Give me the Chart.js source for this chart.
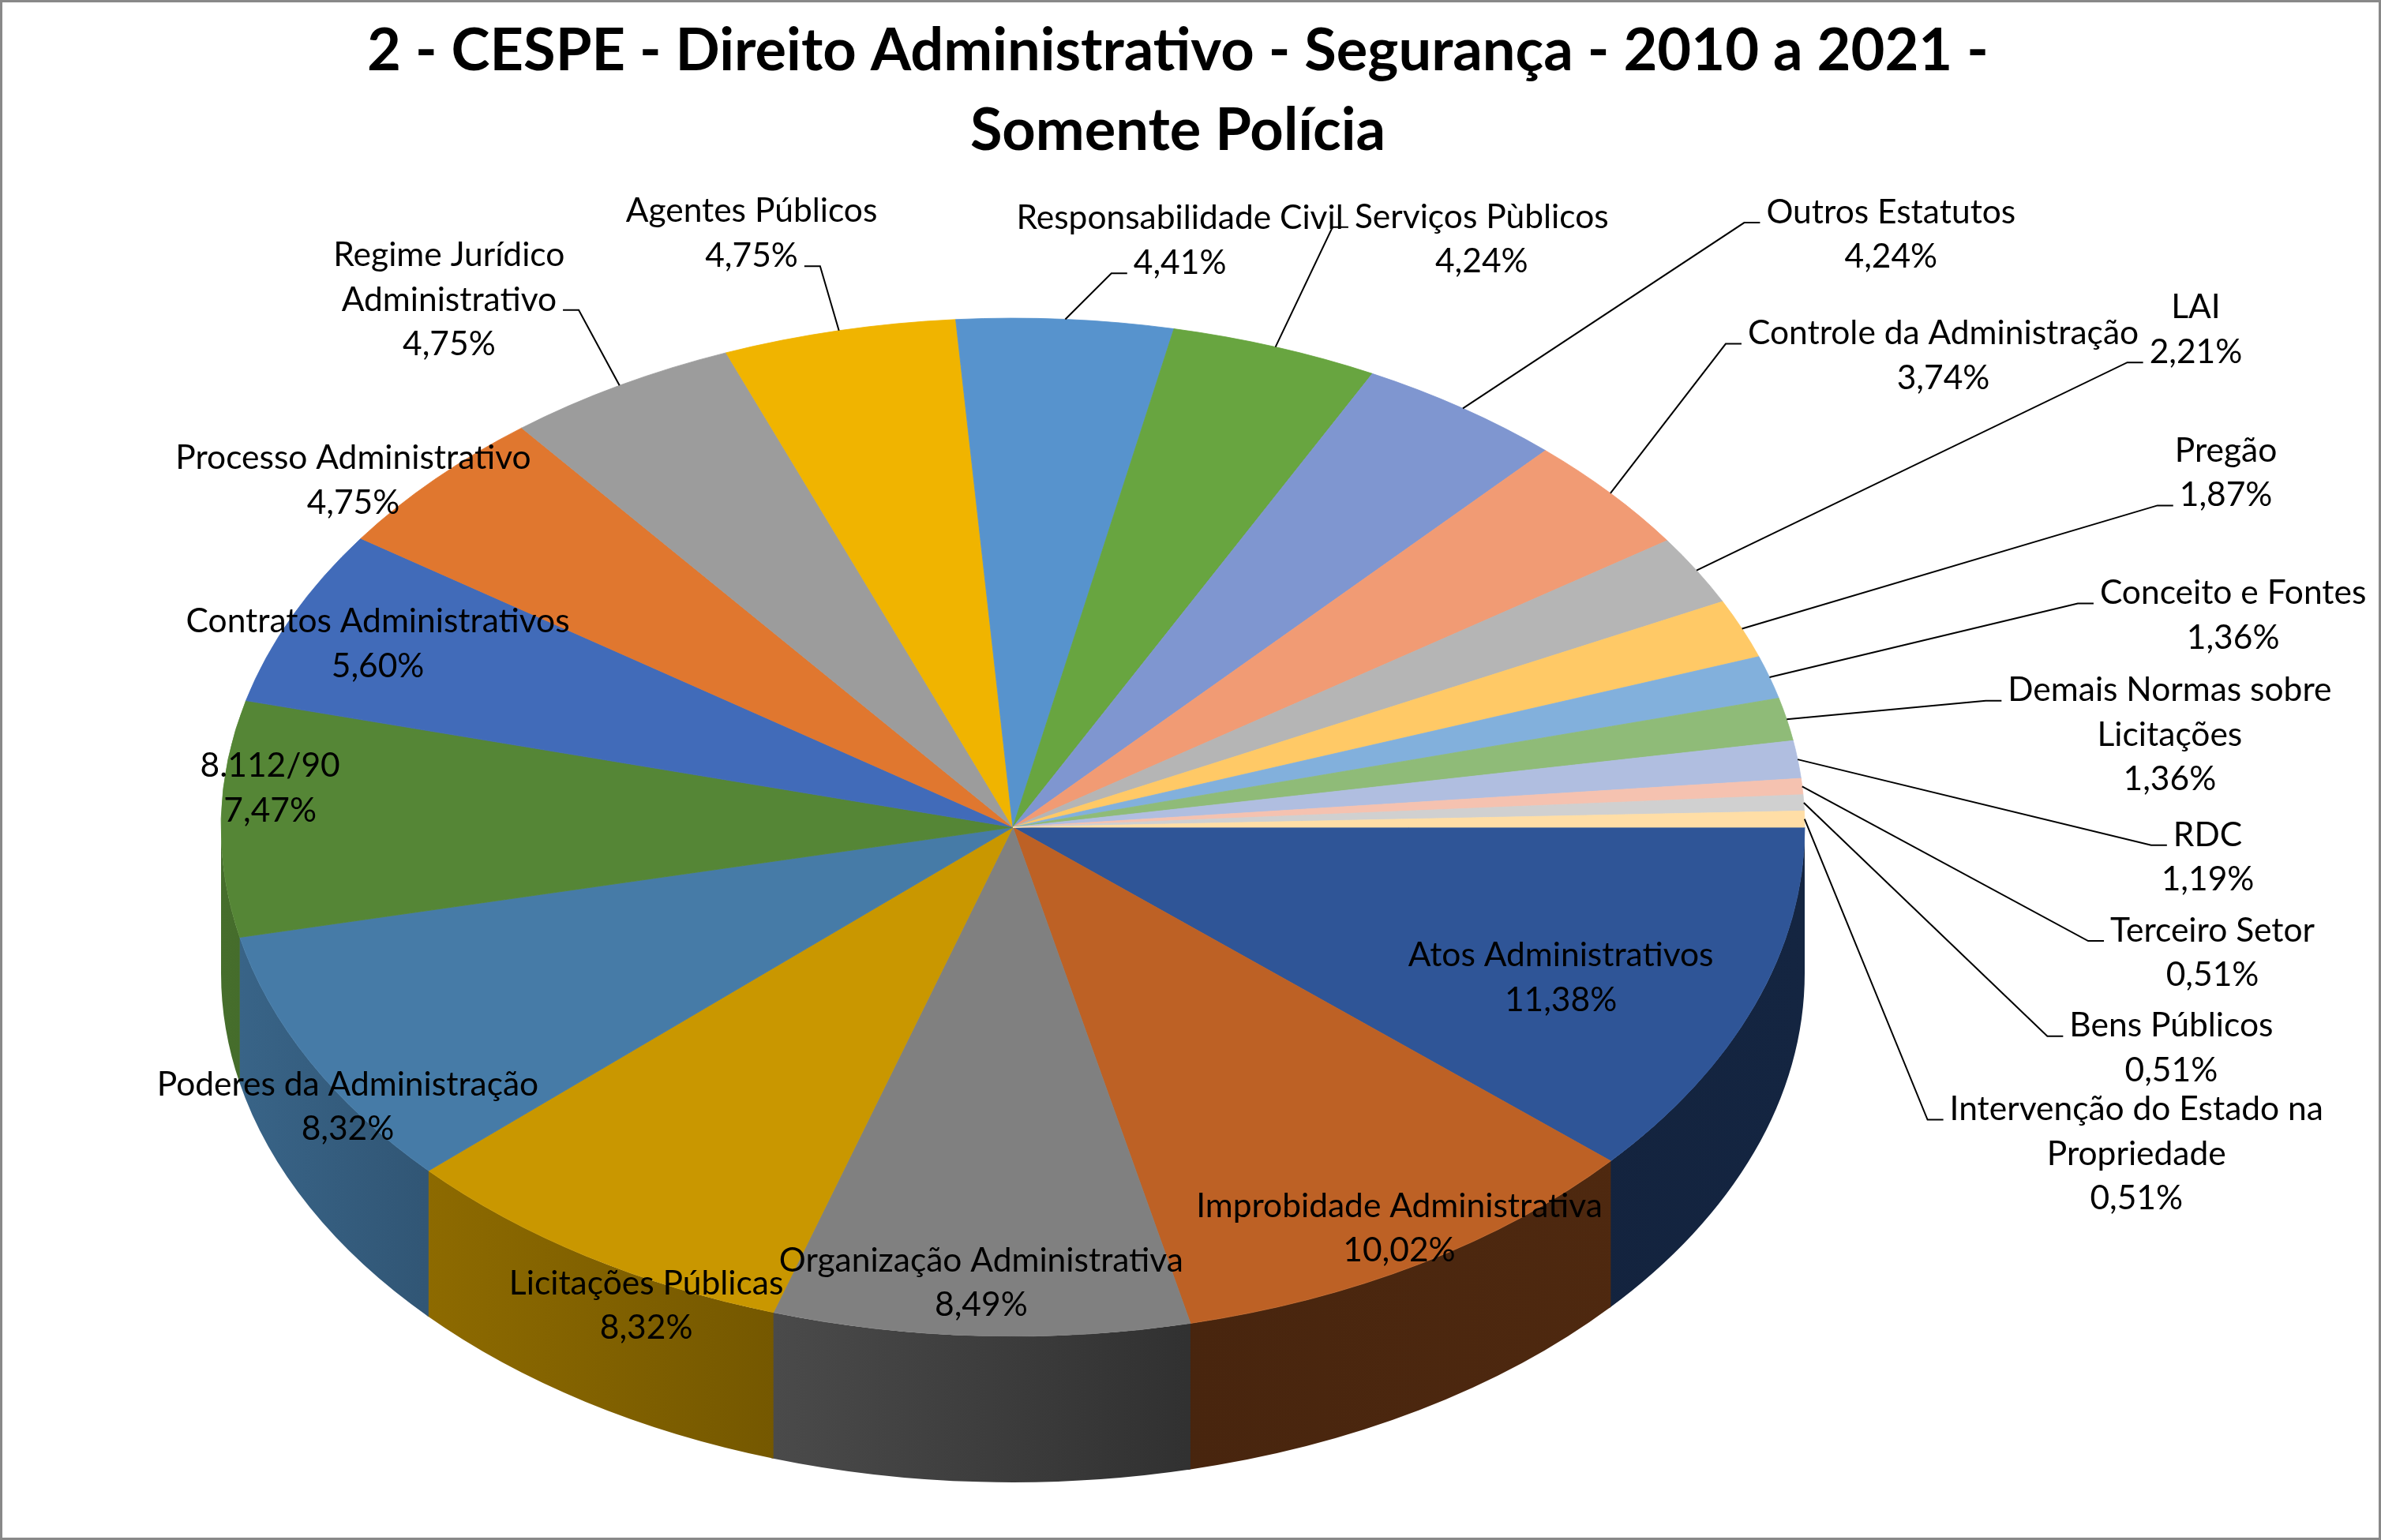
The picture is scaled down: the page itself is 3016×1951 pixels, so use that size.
<!DOCTYPE html>
<html>
<head>
<meta charset="utf-8">
<title>2 - CESPE - Direito Administrativo - Segurança - 2010 a 2021 - Somente Polícia</title>
<script src="https://cdn.jsdelivr.net/npm/chart.js@4.4.1/dist/chart.umd.min.js"></script>
<style>
  html, body { margin: 0; padding: 0; background: #fff; }
  canvas { display: block; }
</style>
</head>
<body>
<canvas id="myChart" width="3016" height="1951"></canvas>
<script>
// values as printed on the chart (% of questions per subject)
const categories = [
  "Atos Administrativos", "Improbidade Administrativa", "Organização Administrativa",
  "Licitações Públicas", "Poderes da Administração", "8.112/90", "Contratos Administrativos",
  "Processo Administrativo", ["Regime Jurídico", "Administrativo"], "Agentes Públicos",
  "Responsabilidade Civil", "Serviços Pùblicos", "Outros Estatutos", "Controle da Administração",
  "LAI", "Pregão", "Conceito e Fontes", ["Demais Normas sobre", "Licitações"], "RDC",
  "Terceiro Setor", "Bens Públicos", ["Intervenção do Estado na", "Propriedade"]
];
const percents = [
  11.38, 10.02, 8.49, 8.32, 8.32, 7.47, 5.60, 4.75, 4.75, 4.75, 4.41,
  4.24, 4.24, 3.74, 2.21, 1.87, 1.36, 1.36, 1.19, 0.51, 0.51, 0.51
];
const titleLines = [
  "2 - CESPE - Direito Administrativo - Segurança - 2010 a 2021 -",
  "Somente Polícia"
];

const sliceColors = [
  "#2f5597", "#bd6125", "#808080", "#c99700", "#467ba7", "#558636",
  "#416bb9", "#e0772f", "#9c9c9c", "#f0b400", "#5793cd", "#68a540",
  "#7f96d0", "#f19b74", "#b5b5b5", "#ffc966", "#82b0dc", "#8fbb78",
  "#b0bee0", "#f5c2b0", "#d0d0d0", "#ffdea6"
];

// label placement, in units of the pie radii, from the pie centre
const labelSpots = [
  [0.692, 0.296], [0.488, 0.788], [-0.040, 0.895], [-0.463, 0.940], [-0.840, 0.549],
  [-0.938, -0.076], [-0.802, -0.360], [-0.833, -0.681], [-0.712, -1.036], [-0.330, -1.166],
  [0.211, -1.152], [0.592, -1.155], [1.109, -1.164], [1.175, -0.926], [1.494, -0.977],
  [1.532, -0.696], [1.541, -0.416], [1.461, -0.181], [1.509, 0.059], [1.515, 0.247],
  [1.463, 0.434], [1.419, 0.642]
];
// which text line the leader line hooks onto (null = label sits on the slice)
const leaderLine = [null, null, null, null, null, null, null, null, 1, 1, 1, 0, 0, 0, 1, 1, 0, 0, 0, 0, 0, 0];

const tilt = 0.643;      // vertical squash of the top face
const depth = 185;       // height of the pie side, px
const labelFont = 42.5;
const lineGap = 56.5;
// shading of the side wall across the pie width
const sideLight = [[0, 0.82], [0.13, 0.70], [0.35, 0.58], [0.61, 0.38], [1, 0.43]];

function shade(hex, f) {
  const n = parseInt(hex.slice(1), 16);
  const r = Math.round(((n >> 16) & 255) * f);
  const g = Math.round(((n >> 8) & 255) * f);
  const b = Math.round((n & 255) * f);
  return `rgb(${r},${g},${b})`;
}

function fmt(v) {
  return v.toFixed(2).replace(".", ",") + "%";
}

//3D look: squash the pie and draw the side wall under it
const pie3d = {
  id: "pie3d",
  beforeDatasetsDraw(chart) {
    const ctx = chart.ctx;
    const arcs = chart.getDatasetMeta(0).data;
    const cx = arcs[0].x, cy = arcs[0].y, r = arcs[0].outerRadius;
    const d = depth / tilt;
    ctx.save();
    ctx.translate(cx, cy);
    ctx.scale(1, tilt);
    ctx.translate(-cx, -cy);
    arcs.forEach((arc, i) => {
      const a0 = Math.max(arc.startAngle, 0);
      const a1 = Math.min(arc.endAngle + 0.003, Math.PI);
      if (a1 <= a0) return;
      const g = ctx.createLinearGradient(cx - r, 0, cx + r, 0);
      sideLight.forEach(([t, f]) => g.addColorStop(t, shade(sliceColors[i], f)));
      ctx.beginPath();
      ctx.arc(cx, cy, r, a0, a1);
      ctx.arc(cx, cy + d, r, a1, a0, true);
      ctx.closePath();
      ctx.fillStyle = g;
      ctx.fill();
    });
  },
  afterDatasetsDraw(chart) {
    chart.ctx.restore();
  }
};

//labels, leader lines, title and frame
const decorations = {
  id: "decorations",
  afterDraw(chart) {
    const ctx = chart.ctx;
    const arcs = chart.getDatasetMeta(0).data;
    const cx = arcs[0].x, cy = arcs[0].y, rx = arcs[0].outerRadius, ry = rx * tilt;
    ctx.save();
    ctx.font = labelFont + "px Lato";
    ctx.fillStyle = "#000";
    ctx.strokeStyle = "#000";
    ctx.lineWidth = 2;
    ctx.textAlign = "center";
    ctx.textBaseline = "middle";
    arcs.forEach((arc, i) => {
      const name = categories[i];
      const lines = (Array.isArray(name) ? name : [name]).concat(fmt(percents[i]));
      const lx = cx + labelSpots[i][0] * rx;
      const ly = cy + labelSpots[i][1] * ry;
      const top = ly - (lines.length - 1) * lineGap / 2;
      lines.forEach((t, k) => ctx.fillText(t, lx, top + k * lineGap));

      const k = leaderLine[i];
      if (k === null) return;
      const mid = (arc.startAngle + arc.endAngle) / 2;
      const px = cx + rx * Math.cos(mid);
      const py = cy + ry * Math.sin(mid);
      const w = ctx.measureText(lines[k]).width;
      const side = lx > px ? -1 : 1;
      const ex = lx + side * (w / 2 + 8);
      const ey = top + k * lineGap + 13;
      ctx.beginPath();
      ctx.moveTo(ex, ey);
      ctx.lineTo(ex + side * 20, ey);
      ctx.lineTo(px, py);
      ctx.stroke();
    });

    // title, sized to the width it has in the original
    ctx.font = "bold 100px Lato";
    const size = Math.round(100 * 2062 / ctx.measureText(titleLines[0]).width);
    ctx.font = "bold " + size + "px Lato";
    ctx.textBaseline = "alphabetic";
    ctx.fillText(titleLines[0], 1492, 89);
    ctx.fillText(titleLines[1], 1492, 190);

    ctx.strokeStyle = "#898989";
    ctx.lineWidth = 3;
    ctx.strokeRect(1.5, 1.5, chart.width - 3, chart.height - 3);
    ctx.restore();
  }
};

new Chart("myChart", {
  type: "pie",
  data: {
    labels: categories,
    datasets: [
      {
        data: percents,
        backgroundColor: sliceColors,
        borderColor: sliceColors,
        borderWidth: 1,
        clip: false,
      },
    ],
  },
  options: {
    responsive: false,
    animation: false,
    devicePixelRatio: 1,
    rotation: 90,
    radius: 1003,
    layout: { padding: { left: 0, right: 450, top: 145, bottom: 0 } },
    plugins: {
      legend: { display: false },
      tooltip: { enabled: false },
    },
    events: [],
  },
  plugins: [pie3d, decorations],
});
</script>
</body>
</html>
